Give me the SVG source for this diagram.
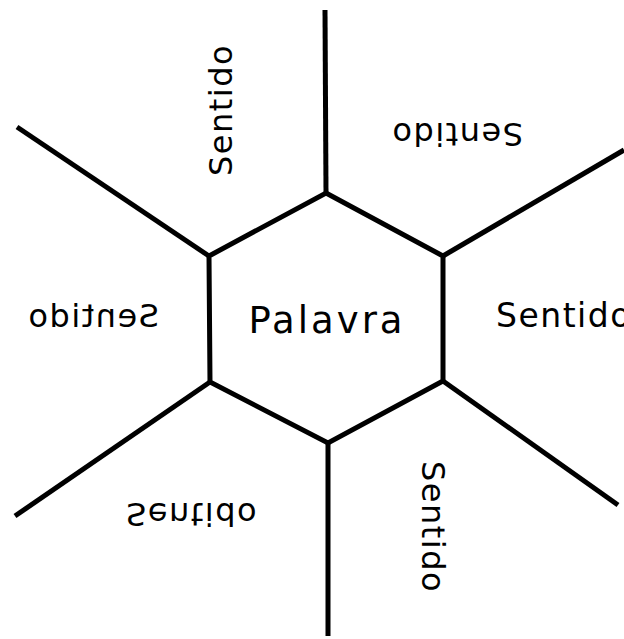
<svg xmlns="http://www.w3.org/2000/svg" width="624" height="639" viewBox="0 0 624 639">
<style>
.ln{stroke:#000;stroke-width:5;fill:none;stroke-linecap:butt;stroke-linejoin:miter}
.t{font-family:"DejaVu Sans",sans-serif;font-size:32px;letter-spacing:1.5px;fill:#000;text-anchor:middle}
.c{font-family:"DejaVu Sans",sans-serif;font-size:37px;letter-spacing:3px;fill:#000;text-anchor:middle}
</style>
<rect width="624" height="639" fill="#fff"/>
<g id="connectors">
<line class="ln" x1="326" y1="193" x2="325" y2="10"/>
<line class="ln" x1="443" y1="256" x2="624" y2="150"/>
<line class="ln" x1="443" y1="381" x2="618" y2="505"/>
<line class="ln" x1="328" y1="443" x2="328" y2="636"/>
<line class="ln" x1="210" y1="382" x2="15" y2="516"/>
<line class="ln" x1="209" y1="256" x2="17" y2="127"/>
</g>
<g id="palavra">
<polygon class="ln" points="326,193 443,256 443,381 328,443 210,382 209,256"/>
<text class="c" x="327" y="333">Palavra</text>
</g>
<g id="sentido-right"><text class="t" x="496" y="327" style="text-anchor:start;font-size:33px">Sentido</text></g>
<g id="sentido-left"><text class="t" transform="translate(93,327) scale(-1,1)">Sentido</text></g>
<g id="sentido-topright"><text class="t" transform="translate(457,123) rotate(180)">Sentido</text></g>
<g id="sentido-bottomleft"><text class="t" transform="translate(192,503) scale(1,-1)">Sentido</text></g>
<g id="sentido-topleft"><text class="t" transform="translate(232,110) rotate(-90)">Sentido</text></g>
<g id="sentido-bottomright"><text class="t" transform="translate(422,527) rotate(90)">Sentido</text></g>
</svg>
